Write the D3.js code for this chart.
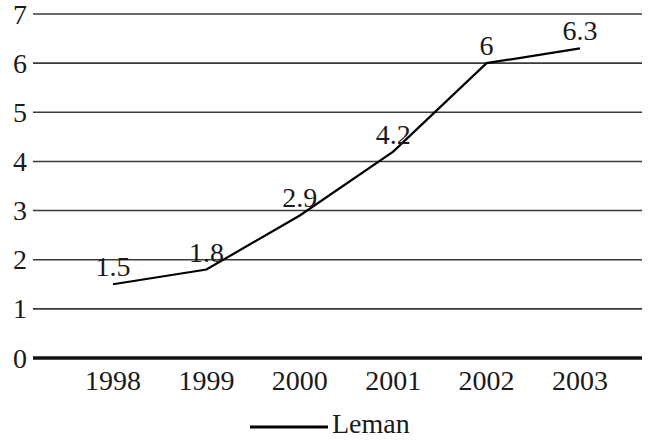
<!DOCTYPE html>
<html>
<head>
<meta charset="utf-8">
<script src="https://cdn.jsdelivr.net/npm/d3@7"></script>
<style>
  body { margin: 0; background: #fff; }
  text { font-family: "Liberation Serif", "Times New Roman", serif; fill: #1a1a1a; }
</style>
</head>
<body>
<div id="chart"></div>
<script>
// data
var years = ["1998", "1999", "2000", "2001", "2002", "2003"];
var leman = [1.5, 1.8, 2.9, 4.2, 6, 6.3];
var yTicks = [0, 1, 2, 3, 4, 5, 6, 7];
var seriesName = "Leman";

var W = 652, H = 441;
var gridLeft = 33, gridRight = 642;
var fontSize = "28px";

var svg = d3.select("#chart")
    .append("svg")
    .attr("width", W)
    .attr("height", H);

var x = d3.scalePoint()
    .domain(years)
    .range([113, 580]);

var y = d3.scaleLinear()
    .domain([0, 7])
    .range([358, 14]);

// horizontal grid lines
svg.append("g")
    .selectAll("line")
    .data(yTicks)
    .enter()
    .append("line")
    .attr("x1", gridLeft)
    .attr("x2", gridRight)
    .attr("y1", function (d) { return y(d); })
    .attr("y2", function (d) { return y(d); })
    .attr("stroke", function (d) { return d === 0 ? "#111" : "#3a3a3a"; })
    .attr("stroke-width", function (d) { return d === 0 ? 3.5 : 1.6; });

// y labels
svg.append("g")
    .selectAll("text")
    .data(yTicks)
    .enter()
    .append("text")
    .attr("x", 27)
    .attr("y", function (d) { return y(d); })
    .attr("dy", "0.34em")
    .attr("text-anchor", "end")
    .style("font-size", fontSize)
    .text(function (d) { return d; });

// x labels
svg.append("g")
    .selectAll("text")
    .data(years)
    .enter()
    .append("text")
    .attr("x", function (d) { return x(d); })
    .attr("y", 390)
    .attr("text-anchor", "middle")
    .style("font-size", fontSize)
    .text(function (d) { return d; });

// the line
var line = d3.line()
    .x(function (d, i) { return x(years[i]); })
    .y(function (d) { return y(d); });

svg.append("path")
    .datum(leman)
    .attr("d", line)
    .attr("fill", "none")
    .attr("stroke", "#000")
    .attr("stroke-width", 2.2);

// value labels
svg.append("g")
    .selectAll("text")
    .data(leman)
    .enter()
    .append("text")
    .attr("x", function (d, i) { return x(years[i]); })
    .attr("y", function (d) { return y(d) - 8; })
    .attr("text-anchor", "middle")
    .style("font-size", fontSize)
    .text(function (d) { return d; });

// legend
var lg = svg.append("g");
lg.append("line")
    .attr("x1", 250).attr("x2", 328)
    .attr("y1", 427).attr("y2", 427)
    .attr("stroke", "#000")
    .attr("stroke-width", 3);
lg.append("text")
    .attr("x", 332)
    .attr("y", 433)
    .style("font-size", fontSize)
    .text(seriesName);
</script>
</body>
</html>
